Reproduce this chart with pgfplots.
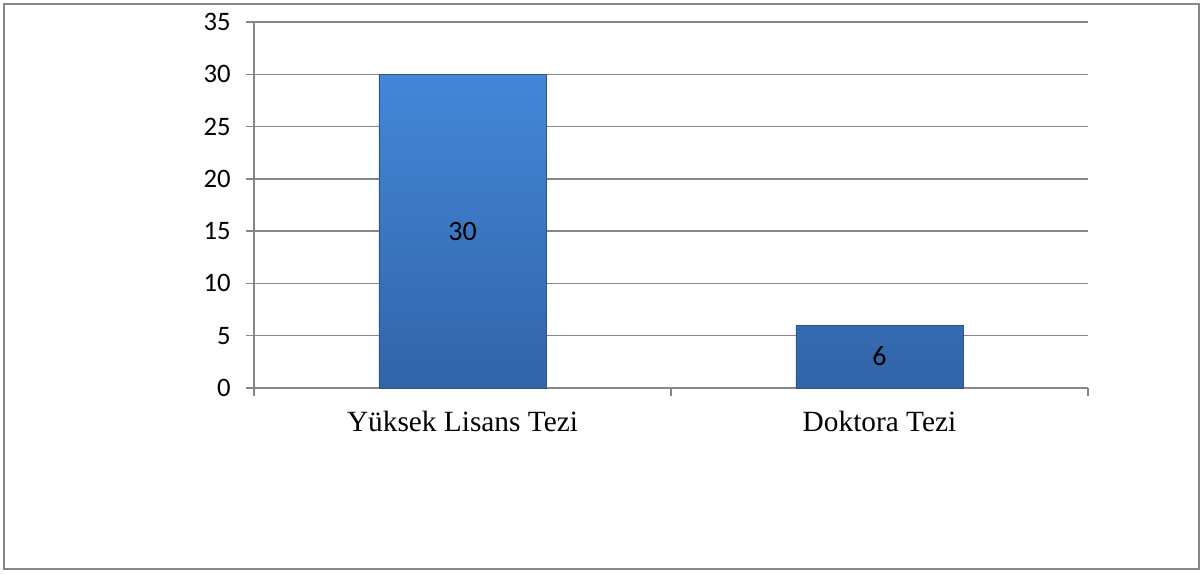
\documentclass[border=0pt]{standalone}
\usepackage{pgfplots}
\pgfplotsset{compat=1.18}
\usepackage{fontspec}
\setmainfont{Liberation Serif}
\newfontfamily\calib{Carlito}
\definecolor{gridc}{HTML}{868686}
\definecolor{bartop}{HTML}{4387D8}
\definecolor{barbot}{HTML}{3264A8}
\definecolor{baredge}{HTML}{2C5589}
\begin{document}
\begin{tikzpicture}
\path[use as bounding box] (-190.5pt,-139.5pt) rectangle (712.5pt,291pt);
\begin{axis}[
  scale only axis,
  width=625.5pt, height=274.5pt,
  xmin=-0.5, xmax=1.5,
  ymin=0, ymax=35,
  ytick={0,5,...,35},
  xtick={0,1},
  xticklabels={Yüksek Lisans Tezi, Doktora Tezi},
  minor xtick={-0.5,0.5,1.5},
  axis x line*=bottom,
  axis y line*=left,
  axis line style={gridc, line width=1pt},
  ymajorgrids,
  grid style={gridc, line width=1pt},
  major tick length=6pt,
  minor tick length=6pt,
  tick align=outside,
  tick style={gridc, line width=1pt},
  xtick style={draw=none},
  minor x tick style={draw=gridc, line width=1pt},
  yticklabel style={font=\calib\fontsize{20}{22}\selectfont, xshift=-8pt},
  xticklabel style={font=\fontsize{22}{24}\selectfont, yshift=-8pt},
  /pgf/number format/assume math mode=true,
  clip=false,
]
\addplot[ybar, bar width=125.25pt, top color=bartop, bottom color=barbot, draw=baredge, line width=0.6pt]
  coordinates {(0,30) (1,6)};
\addplot[draw=none, mark=none, nodes near coords, point meta=explicit symbolic,
  every node near coord/.style={anchor=center, font=\calib\fontsize{21}{23}\selectfont, text=black}]
  coordinates {(0,15)[30] (1,3)[6]};
\end{axis}
\draw[gridc, line width=0.9pt] (-187.5pt,-135.75pt) rectangle (708.75pt,288pt);
\end{tikzpicture}
\end{document}
